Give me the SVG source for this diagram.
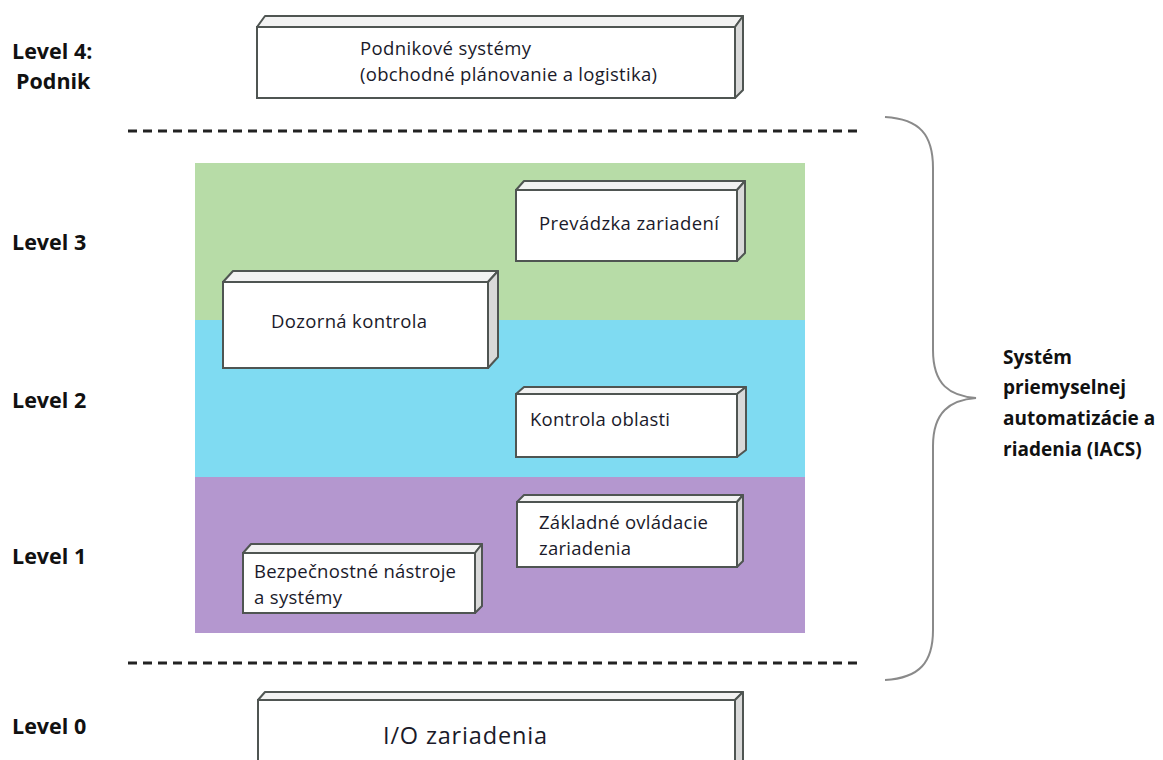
<svg xmlns="http://www.w3.org/2000/svg" width="1163" height="760" viewBox="0 0 1163 760">
  <style>
    .lvl { font-family: "Open Sans", "Liberation Sans", sans-serif; font-weight: bold; font-size: 21.5px; fill: #111; }
    .side-lbl { font-family: "Open Sans", "Liberation Sans", sans-serif; font-weight: bold; font-size: 19px; fill: #111; }
    .lbl { font-family: "Open Sans", "Liberation Sans", sans-serif; font-size: 18.5px; fill: #1a1a2a; }
    .lbl-big { font-family: "Open Sans", "Liberation Sans", sans-serif; font-size: 23.5px; fill: #1a1a2a; }
    .front { fill: #ffffff; stroke: #4f5552; stroke-width: 2; }
    .top { fill: #f2f2f2; stroke: #4f5552; stroke-width: 2; stroke-linejoin: round; }
    .side { fill: #d9d9d9; stroke: #4f5552; stroke-width: 2; stroke-linejoin: round; }
    .dash { stroke: #222; stroke-width: 3; stroke-dasharray: 9 6; fill: none; }
    .brace { stroke: #8a8a8a; stroke-width: 2; fill: none; }
  </style>

  <rect width="1163" height="760" fill="#ffffff"/>

  <!-- level bands -->
  <g id="bands">
    <rect x="195" y="163" width="610" height="157" fill="#b7dca7"/>
    <rect x="195" y="320" width="610" height="157" fill="#7fdbf2"/>
    <rect x="195" y="477" width="610" height="156" fill="#b497cf"/>
  </g>

  <!-- IACS boundary lines and brace -->
  <g id="connectors">
    <line class="dash" x1="128" y1="131" x2="860" y2="131"/>
    <line class="dash" x1="128" y1="663" x2="860" y2="663"/>
    <path class="brace" d="M885,117 C920,119 933,135 933,168 L933,350 C933,385 950,396 976,398 C950,400 933,412 933,446 L933,630 C933,662 920,678 885,680"/>
  </g>

  <!-- level labels -->
  <g id="levels">
    <text class="lvl" x="12" y="59">Level 4:</text>
    <text class="lvl" x="16" y="89">Podnik</text>
    <text class="lvl" x="12" y="250">Level 3</text>
    <text class="lvl" x="12" y="408">Level 2</text>
    <text class="lvl" x="12" y="564">Level 1</text>
    <text class="lvl" x="12" y="734">Level 0</text>
  </g>

  <g id="iacs-label">
    <text class="side-lbl" x="1003" y="364">Systém</text>
    <text class="side-lbl" x="1003" y="394">priemyselnej</text>
    <text class="side-lbl" x="1003" y="425">automatizácie a</text>
    <text class="side-lbl" x="1003" y="456">riadenia (IACS)</text>
  </g>

  <!-- Level 4 -->
  <g id="enterprise">
    <polygon class="top" points="257,27 265,16 743,16 735,27"/>
    <polygon class="side" points="735,27 743,16 743,90 735,98"/>
    <rect class="front" x="257" y="27" width="478" height="71"/>
    <text class="lbl" x="360" y="55" textLength="171">Podnikové systémy</text>
    <text class="lbl" x="360" y="81" textLength="297">(obchodné plánovanie a logistika)</text>
  </g>

  <!-- Level 3 -->
  <g id="site-operations">
    <polygon class="top" points="516,190 524,181 745,181 737,190"/>
    <polygon class="side" points="737,190 745,181 745,253 737,261"/>
    <rect class="front" x="516" y="190" width="221" height="71"/>
    <text class="lbl" x="539" y="230" textLength="180">Prevádzka zariadení</text>
  </g>

  <g id="supervisory">
    <polygon class="top" points="223,282 233,271 498,271 488,282"/>
    <polygon class="side" points="488,282 498,271 498,357 488,368"/>
    <rect class="front" x="223" y="282" width="265" height="86"/>
    <text class="lbl" x="271" y="328" textLength="156">Dozorná kontrola</text>
  </g>

  <!-- Level 2 -->
  <g id="area-control">
    <polygon class="top" points="516,394 524,387 746,387 737,394"/>
    <polygon class="side" points="737,394 746,387 746,450 737,457"/>
    <rect class="front" x="516" y="394" width="221" height="63"/>
    <text class="lbl" x="530" y="426" textLength="140">Kontrola oblasti</text>
  </g>

  <!-- Level 1 -->
  <g id="basic-control">
    <polygon class="top" points="517,502 524,495 743,495 737,502"/>
    <polygon class="side" points="737,502 743,495 743,561 737,567"/>
    <rect class="front" x="517" y="502" width="220" height="65"/>
    <text class="lbl" x="539" y="529" textLength="169">Základné ovládacie</text>
    <text class="lbl" x="539" y="555" textLength="92">zariadenia</text>
  </g>

  <g id="safety">
    <polygon class="top" points="243,553 251,544 482,544 475,553"/>
    <polygon class="side" points="475,553 482,544 482,606 475,613"/>
    <rect class="front" x="243" y="553" width="232" height="60"/>
    <text class="lbl" x="254" y="578" textLength="202">Bezpečnostné nástroje</text>
    <text class="lbl" x="254" y="604" textLength="88">a systémy</text>
  </g>

  <!-- Level 0 -->
  <g id="io-devices">
    <polygon class="top" points="258,700 265,692 743,692 735,700"/>
    <polygon class="side" points="735,700 743,692 743,770 735,770"/>
    <rect class="front" x="258" y="700" width="477" height="70"/>
    <text class="lbl-big" x="383" y="744" textLength="164">I/O zariadenia</text>
  </g>
</svg>
